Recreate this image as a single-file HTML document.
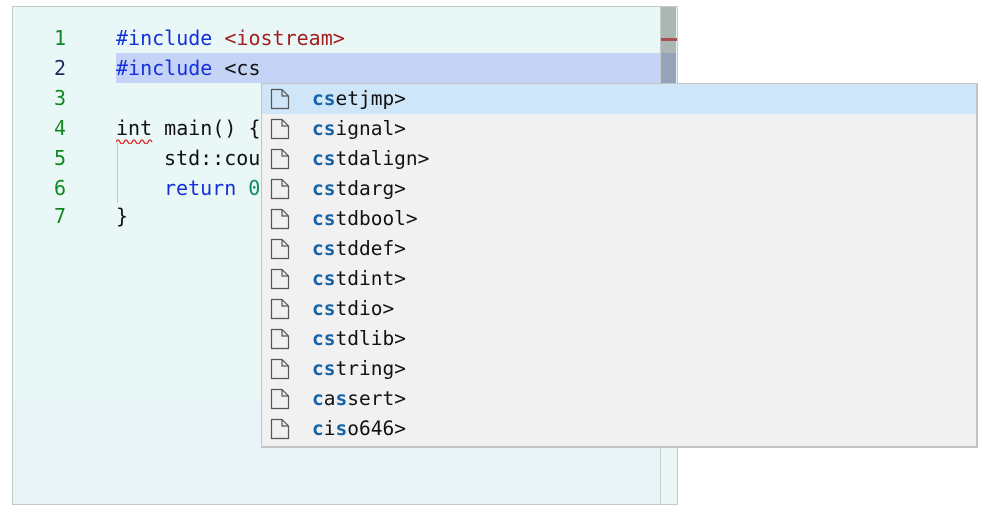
<!DOCTYPE html>
<html><head><meta charset="utf-8"><style>
html,body{margin:0;padding:0;background:#fff;width:989px;height:516px;overflow:hidden;position:relative;font-family:"DejaVu Sans Mono","Liberation Mono",monospace;}
.ed{position:absolute;left:12px;top:6px;width:664px;height:497px;border:1px solid #c4c8c8;background:#e9f8f6;}
.edb{position:absolute;left:13px;top:400px;width:647px;height:103px;background:#e8f4f8;}
.sb{position:absolute;left:660px;top:6px;width:1px;height:498px;background:#c4cccc;}
.sbt{position:absolute;left:661px;top:7px;width:15px;height:76px;background:#acb6b2;}
.mk{position:absolute;left:661px;top:38px;width:16px;height:3px;background:#a85050;}
.hl{position:absolute;left:116px;top:53px;width:545px;height:30px;background:#c5d4f6;}
.hl2{position:absolute;left:661px;top:53px;width:15px;height:30px;background:#96a2b8;}
.ln{position:absolute;left:40px;width:40px;text-align:center;font-size:20px;line-height:30px;color:#108a20;}
.c{position:absolute;font-size:20px;line-height:30px;white-space:pre;color:#111;}
.guide{position:absolute;left:117px;top:143px;width:1px;height:60px;background:#c0c4c4;}
.pop{position:absolute;left:261px;top:83px;width:714px;height:362px;border:1px solid #c4c4c4;border-right:2px solid #c4c4c4;border-bottom:2px solid #c4c4c4;background:#f1f1f1;}
.row{position:absolute;left:0;width:714px;height:30px;}
.row .t{position:absolute;left:50px;top:0;line-height:30px;font-size:19.5px;color:#111;white-space:pre;}
.row b{color:#1462a8;}
.row svg{position:absolute;left:8px;top:4px;}
</style></head><body>
<div class="ed"></div>
<div class="edb"></div>
<div class="hl"></div>
<div class="sbt"></div>
<div class="hl2"></div>
<div class="mk"></div>
<div class="sb"></div>
<div class="ln" style="top:23px">1</div>
<div class="ln" style="top:53px;color:#1a2a5a">2</div>
<div class="ln" style="top:83px">3</div>
<div class="ln" style="top:113px">4</div>
<div class="ln" style="top:143px">5</div>
<div class="ln" style="top:173px">6</div>
<div class="ln" style="top:201px">7</div>
<div class="c" style="left:116px;top:23px"><span style="color:#1530d8">#include</span> <span style="color:#a02020">&lt;iostream&gt;</span></div>
<div class="c" style="left:116px;top:53px"><span style="color:#1530d8">#include</span> &lt;cs</div>
<div class="c" style="left:116px;top:113px">int main() {</div>
<svg style="position:absolute;left:116px;top:138px" width="38" height="6"><path d="M0 4 Q2 0 4 4 T8 4 T12 4 T16 4 T20 4 T24 4 T28 4 T32 4 T36 4" fill="none" stroke="#e02020" stroke-width="1.3"/></svg>
<div class="guide"></div>
<div class="c" style="left:164px;top:143px">std::cou</div>
<div class="c" style="left:164px;top:173px"><span style="color:#1530d8">return</span> <span style="color:#108a60">0</span></div>
<div class="c" style="left:116px;top:201px">}</div>
<div class="pop">
<div class="row" style="top:0;background:#cfe5f8"></div>
</div>
<div style="position:absolute;left:262px;top:84px;">
<div class="row" style="top:0"><svg width="20" height="22"><path d="M1.5 1.5H12L18.5 8V20.5H1.5Z M12 1.5V8H18.5" fill="none" stroke="#555" stroke-width="1.2"/></svg><span class="t"><b>cs</b>etjmp&gt;</span></div>
<div class="row" style="top:30px"><svg width="20" height="22"><path d="M1.5 1.5H12L18.5 8V20.5H1.5Z M12 1.5V8H18.5" fill="none" stroke="#555" stroke-width="1.2"/></svg><span class="t"><b>cs</b>ignal&gt;</span></div>
<div class="row" style="top:60px"><svg width="20" height="22"><path d="M1.5 1.5H12L18.5 8V20.5H1.5Z M12 1.5V8H18.5" fill="none" stroke="#555" stroke-width="1.2"/></svg><span class="t"><b>cs</b>tdalign&gt;</span></div>
<div class="row" style="top:90px"><svg width="20" height="22"><path d="M1.5 1.5H12L18.5 8V20.5H1.5Z M12 1.5V8H18.5" fill="none" stroke="#555" stroke-width="1.2"/></svg><span class="t"><b>cs</b>tdarg&gt;</span></div>
<div class="row" style="top:120px"><svg width="20" height="22"><path d="M1.5 1.5H12L18.5 8V20.5H1.5Z M12 1.5V8H18.5" fill="none" stroke="#555" stroke-width="1.2"/></svg><span class="t"><b>cs</b>tdbool&gt;</span></div>
<div class="row" style="top:150px"><svg width="20" height="22"><path d="M1.5 1.5H12L18.5 8V20.5H1.5Z M12 1.5V8H18.5" fill="none" stroke="#555" stroke-width="1.2"/></svg><span class="t"><b>cs</b>tddef&gt;</span></div>
<div class="row" style="top:180px"><svg width="20" height="22"><path d="M1.5 1.5H12L18.5 8V20.5H1.5Z M12 1.5V8H18.5" fill="none" stroke="#555" stroke-width="1.2"/></svg><span class="t"><b>cs</b>tdint&gt;</span></div>
<div class="row" style="top:210px"><svg width="20" height="22"><path d="M1.5 1.5H12L18.5 8V20.5H1.5Z M12 1.5V8H18.5" fill="none" stroke="#555" stroke-width="1.2"/></svg><span class="t"><b>cs</b>tdio&gt;</span></div>
<div class="row" style="top:240px"><svg width="20" height="22"><path d="M1.5 1.5H12L18.5 8V20.5H1.5Z M12 1.5V8H18.5" fill="none" stroke="#555" stroke-width="1.2"/></svg><span class="t"><b>cs</b>tdlib&gt;</span></div>
<div class="row" style="top:270px"><svg width="20" height="22"><path d="M1.5 1.5H12L18.5 8V20.5H1.5Z M12 1.5V8H18.5" fill="none" stroke="#555" stroke-width="1.2"/></svg><span class="t"><b>cs</b>tring&gt;</span></div>
<div class="row" style="top:300px"><svg width="20" height="22"><path d="M1.5 1.5H12L18.5 8V20.5H1.5Z M12 1.5V8H18.5" fill="none" stroke="#555" stroke-width="1.2"/></svg><span class="t"><b>c</b>a<b>s</b>sert&gt;</span></div>
<div class="row" style="top:330px"><svg width="20" height="22"><path d="M1.5 1.5H12L18.5 8V20.5H1.5Z M12 1.5V8H18.5" fill="none" stroke="#555" stroke-width="1.2"/></svg><span class="t"><b>c</b>i<b>s</b>o646&gt;</span></div>
</div>
</body></html>
